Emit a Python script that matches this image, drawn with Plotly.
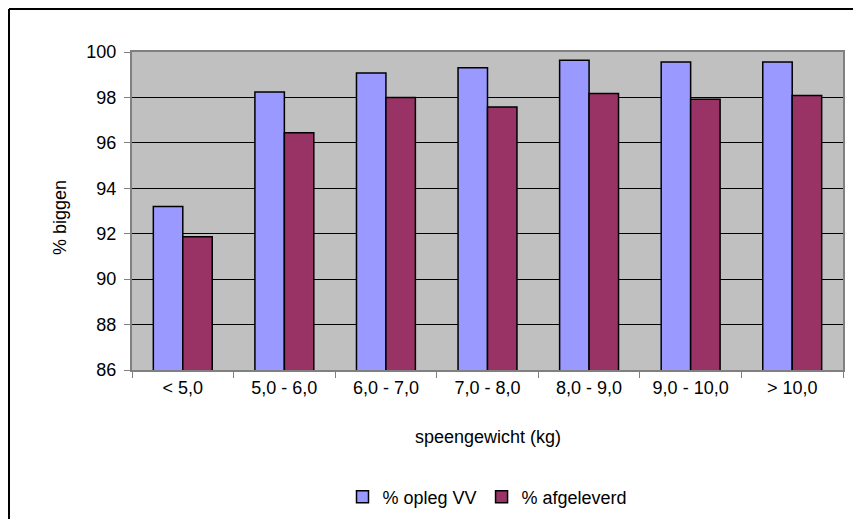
import plotly.graph_objects as go

categories = ["< 5,0", "5,0 - 6,0", "6,0 - 7,0", "7,0 - 8,0", "8,0 - 9,0", "9,0 - 10,0", "> 10,0"]
opleg_vv = [93.2, 98.24, 99.08, 99.31, 99.64, 99.56, 99.56]
afgeleverd = [91.87, 96.44, 98.0, 97.58, 98.17, 97.92, 98.08]
y_ticks = [86, 88, 90, 92, 94, 96, 98, 100]

FONT = "Liberation Sans, Arial, sans-serif"

fig = go.Figure()
fig.add_trace(go.Bar(x=categories, y=opleg_vv, name="% opleg VV",
                     marker=dict(color="#9999FF", line=dict(color="black", width=1.5))))
fig.add_trace(go.Bar(x=categories, y=afgeleverd, name="% afgeleverd",
                     marker=dict(color="#993366", line=dict(color="black", width=1.5))))

# page has an 8px body margin; keep the figure inside the window
OFF = 8
W, H = 861 - 2 * OFF, 527 - 2 * OFF
PX0, PX1, PY0, PY1 = 132, 843, 52, 370   # plot area in page pixels
L, R, T, B = PX0 - OFF, W - (PX1 - OFF), PY0 - OFF, H - (PY1 - OFF)
pw, ph = PX1 - PX0, PY1 - PY0

def px_x(x):
    return (x - PX0) / pw

def px_y(y):
    return (PY1 - y) / ph

fig.update_layout(
    width=W, height=H,
    margin=dict(l=L, r=R, t=T, b=B, autoexpand=False),
    paper_bgcolor="white",
    plot_bgcolor="#C0C0C0",
    barmode="group",
    bargap=0.42,
    bargroupgap=0,
    font=dict(family=FONT, size=18, color="black"),
    showlegend=True,
    legend=dict(orientation="h", x=0.5, xanchor="center", y=px_y(497), yanchor="middle",
                font=dict(size=18), bgcolor="rgba(0,0,0,0)", traceorder="normal",
                itemwidth=30),
    xaxis=dict(type="category", showgrid=False, ticks="outside", tickson="boundaries",
               ticklen=6, tickcolor="#808080", showline=True, linecolor="#808080",
               linewidth=2, mirror=True, tickfont=dict(size=18)),
    yaxis=dict(range=[86, 100], tickvals=y_ticks, showgrid=True, gridcolor="black",
               gridwidth=1, ticks="outside", ticklen=6, tickcolor="#808080",
               showline=True, linecolor="#808080", linewidth=2, mirror=True,
               zeroline=False, tickfont=dict(size=18), ticklabelstandoff=4),
    annotations=[
        dict(text="% biggen", xref="paper", yref="paper", x=px_x(60), y=px_y(218),
             textangle=-90, showarrow=False, font=dict(size=18),
             xanchor="center", yanchor="middle"),
        dict(text="speengewicht (kg)", xref="paper", yref="paper", x=0.5, y=px_y(437),
             showarrow=False, font=dict(size=18), xanchor="center", yanchor="middle"),
    ],
    shapes=[
        dict(type="line", xref="paper", yref="paper",
             x0=px_x(9), x1=px_x(861), y0=px_y(9), y1=px_y(9),
             line=dict(color="black", width=2), layer="below"),
        dict(type="line", xref="paper", yref="paper",
             x0=px_x(9), x1=px_x(9), y0=px_y(9), y1=px_y(527),
             line=dict(color="black", width=2), layer="below"),
    ],
)

fig.write_html("out.html")
